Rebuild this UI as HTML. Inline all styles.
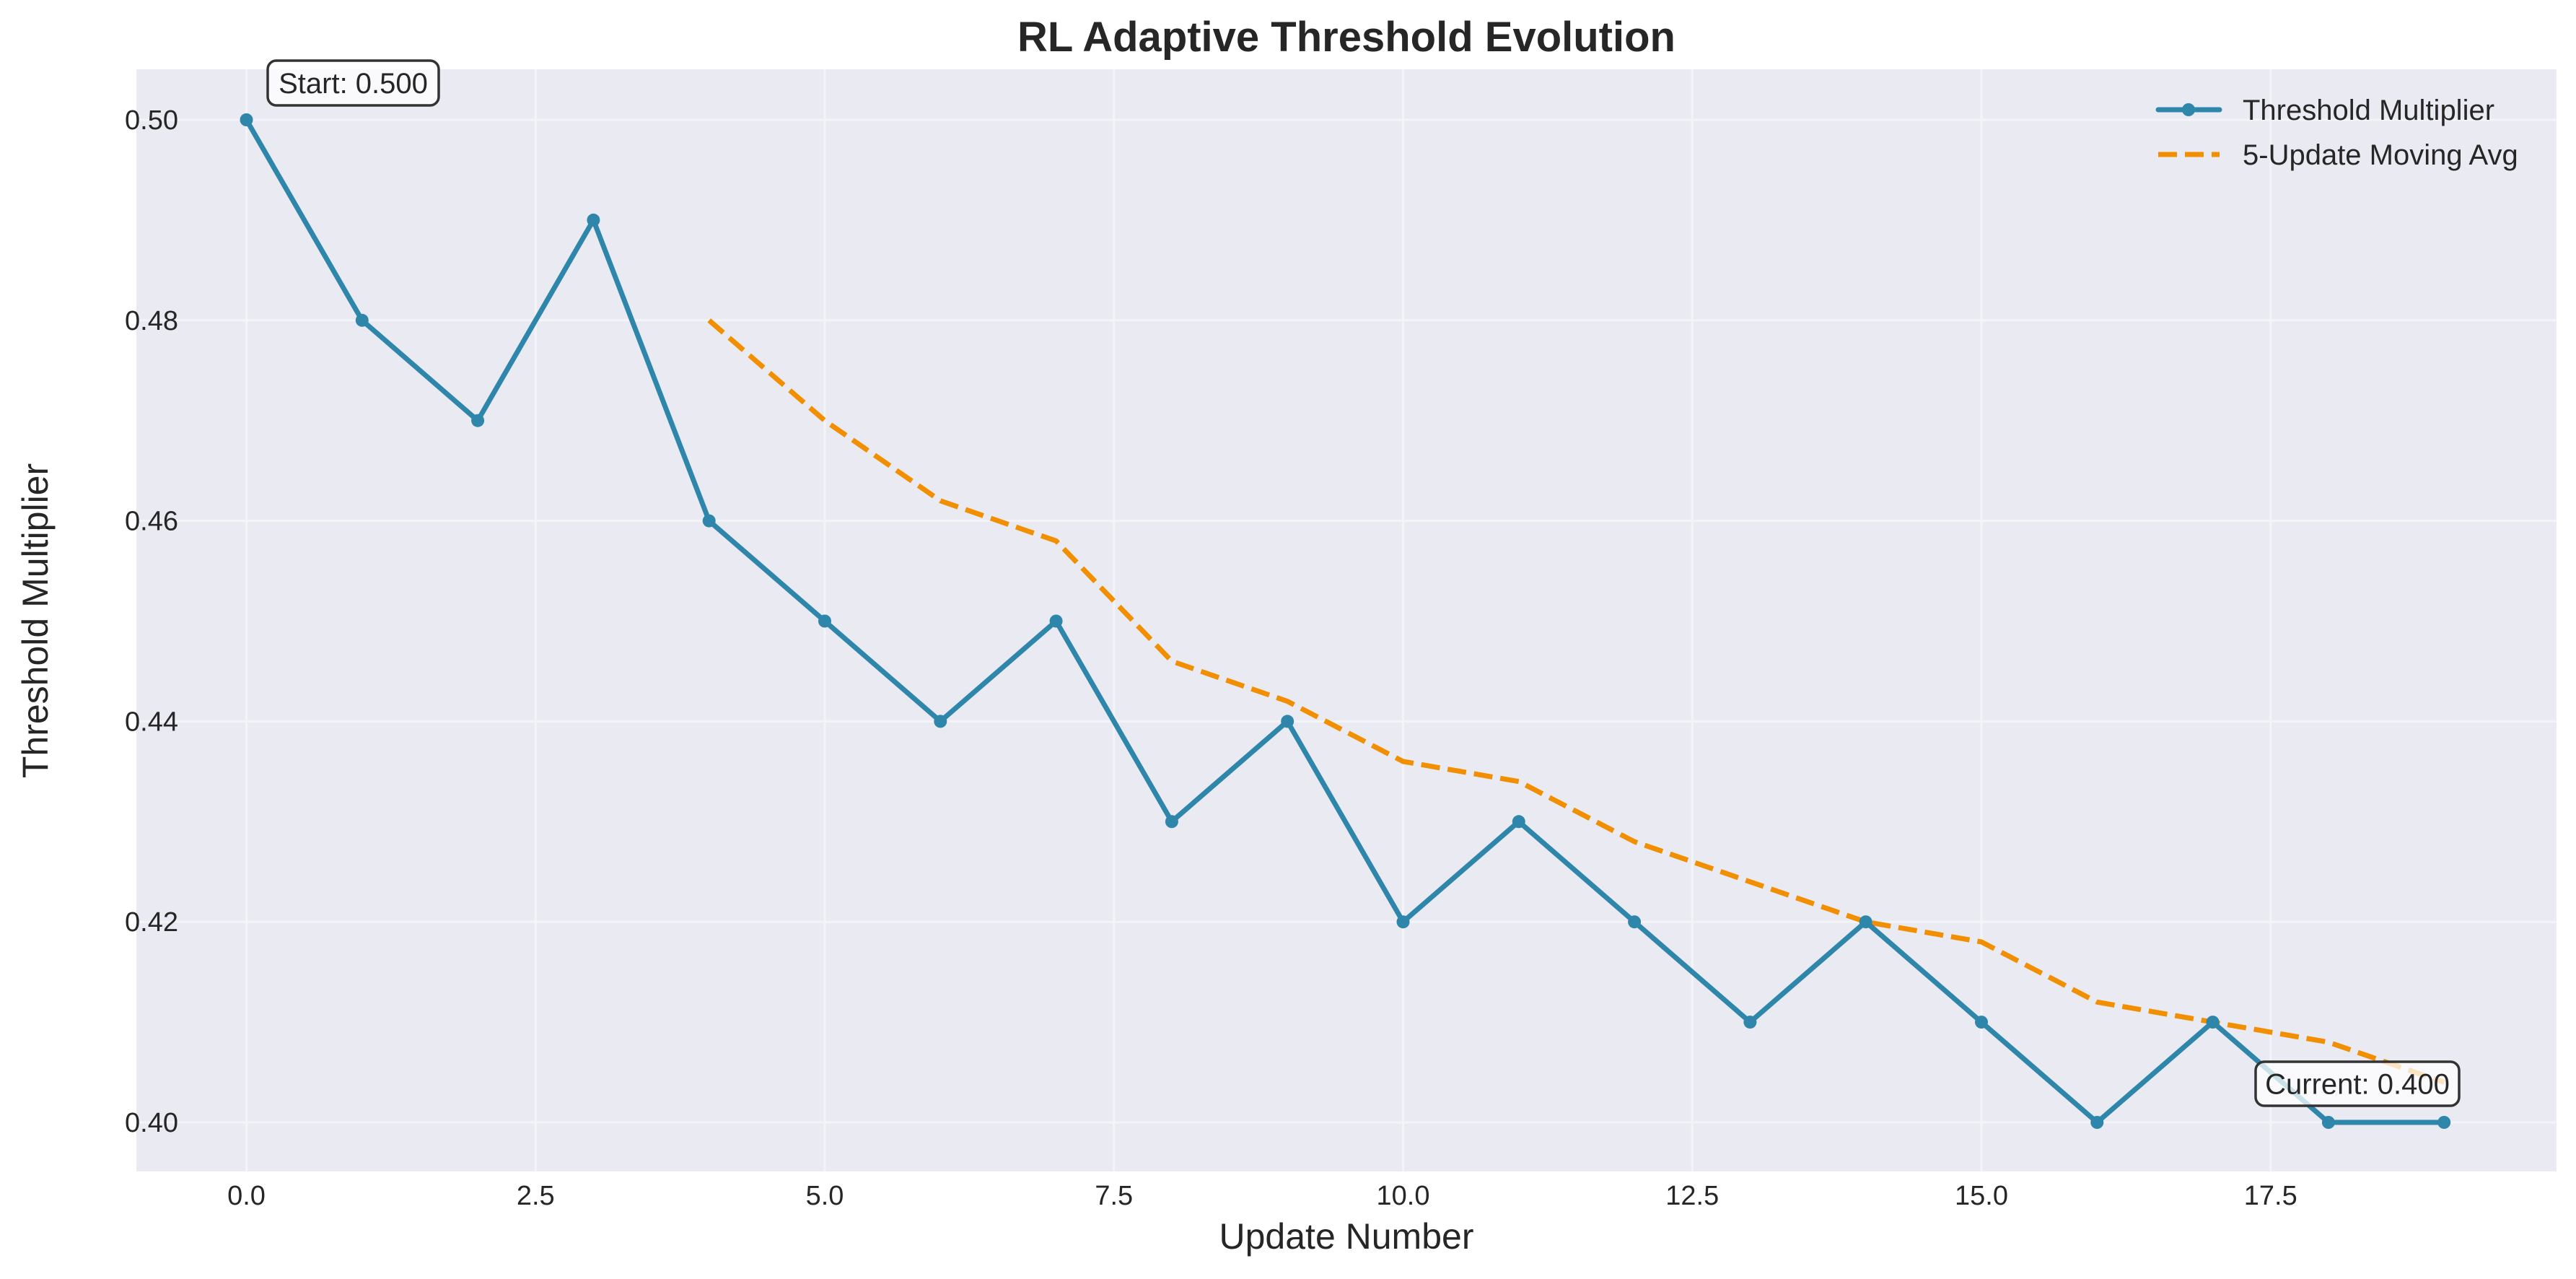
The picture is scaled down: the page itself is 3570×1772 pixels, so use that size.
<!DOCTYPE html>
<html><head><meta charset="utf-8"><style>
body{margin:0;background:#fff}
svg{display:block;font-family:"Liberation Sans",sans-serif}
</style></head><body>
<svg id="chart" width="3570" height="1772" viewBox="0 0 3570 1772">
<rect x="0" y="0" width="3570" height="1772" fill="#fff"/>
<rect x="189" y="96" width="3354" height="1527" fill="#eaeaf2"/>
<g id="grid"></g>
<g id="ticks"></g>
<g id="series"></g>
<text x="1866" y="71" text-anchor="middle" font-size="58" font-weight="bold" fill="#262626">RL Adaptive Threshold Evolution</text>
<text x="1866" y="1730" text-anchor="middle" font-size="50" fill="#262626">Update Number</text>
<text x="66" y="860" text-anchor="middle" font-size="50" fill="#262626" transform="rotate(-90 66 860)">Threshold Multiplier</text>
<g>
<g>
<line x1="2991" y1="152" x2="3076" y2="152" stroke="#2E86AB" stroke-width="7" stroke-linecap="round"/>
<circle cx="3033" cy="152" r="9" fill="#2E86AB"/>
<text x="3108" y="166" font-size="40" fill="#262626">Threshold Multiplier</text>
</g>
<g>
<line x1="2991" y1="214" x2="3076" y2="214" stroke="#F18F01" stroke-width="7" stroke-dasharray="26 11"/>
<text x="3108" y="228" font-size="40" fill="#262626">5-Update Moving Avg</text>
</g>
</g>
<g id="annotations"></g>
</svg>
<script>
const xs = [0,1,2,3,4,5,6,7,8,9,10,11,12,13,14,15,16,17,18,19];
const thresholds = [0.50,0.48,0.47,0.49,0.46,0.45,0.44,0.45,0.43,0.44,0.42,0.43,0.42,0.41,0.42,0.41,0.40,0.41,0.40,0.40];
const maXs = [4,5,6,7,8,9,10,11,12,13,14,15,16,17,18,19];
const maValues = [0.48,0.47,0.462,0.458,0.446,0.442,0.436,0.434,0.428,0.424,0.42,0.418,0.412,0.41,0.408,0.404];
const xTicks = [0,2.5,5,7.5,10,12.5,15,17.5];
const xTickLabels = ["0.0","2.5","5.0","7.5","10.0","12.5","15.0","17.5"];
const yTicks = [0.40,0.42,0.44,0.46,0.48,0.50];
const yTickLabels = ["0.40","0.42","0.44","0.46","0.48","0.50"];

const NS="http://www.w3.org/2000/svg";
const X0=189,X1=3543,Y0=96,Y1=1623;
function xScale(v){return 341.5+v*160.3;}
function yScale(v){return 166+(0.50-v)*13890;}
function mk(tag,attrs,parent){const e=document.createElementNS(NS,tag);for(const k in attrs)e.setAttribute(k,attrs[k]);parent.appendChild(e);return e;}
const grid=document.getElementById('grid'),ticks=document.getElementById('ticks'),series=document.getElementById('series'),ann=document.getElementById('annotations');
xTicks.forEach((t,i)=>{
  const l=mk('line',{x1:xScale(t),x2:xScale(t),y1:Y0,y2:Y1,stroke:'#f4f4f8','stroke-width':3},grid);
  
  
  const tx=mk('text',{x:xScale(t),y:1669,'text-anchor':'middle','font-size':38,fill:'#262626'},ticks);
  tx.textContent=xTickLabels[i];
  
  
});
yTicks.forEach((t,i)=>{
  const l=mk('line',{x1:X0,x2:X1,y1:yScale(t),y2:yScale(t),stroke:'#f4f4f8','stroke-width':3},grid);
  
  
  const tx=mk('text',{x:247,y:yScale(t)+13,'text-anchor':'end','font-size':38,fill:'#262626'},ticks);
  tx.textContent=yTickLabels[i];
  
  
});
const ma=mk('polyline',{points:maXs.map((x,i)=>xScale(x)+','+yScale(maValues[i])).join(' '),fill:'none',stroke:'#F18F01','stroke-width':7,'stroke-dasharray':'26 11'},series);


const tl=mk('polyline',{points:xs.map((x,i)=>xScale(x)+','+yScale(thresholds[i])).join(' '),fill:'none',stroke:'#2E86AB','stroke-width':7,'stroke-linejoin':'round'},series);


xs.forEach((x,i)=>{
  const c=mk('circle',{cx:xScale(x),cy:yScale(thresholds[i]),r:9,fill:'#2E86AB'},series);
  
  
});
function box(x,y,w,h,label,name){
  const g=mk('g',{},ann);
  
  
  mk('rect',{x:x,y:y,width:w,height:h,rx:12,fill:'#ffffff','fill-opacity':0.75,stroke:'#333','stroke-width':3.5},g);
  const t=mk('text',{x:x+w/2,y:y+h/2+14,'text-anchor':'middle','font-size':40,fill:'#262626'},g);
  t.textContent=label;
}
box(371,84,237,62,'Start: '+thresholds[0].toFixed(3),'start-annotation');
box(3126,1471,282,61,'Current: '+thresholds[thresholds.length-1].toFixed(3),'current-annotation');
</script>
</body></html>
